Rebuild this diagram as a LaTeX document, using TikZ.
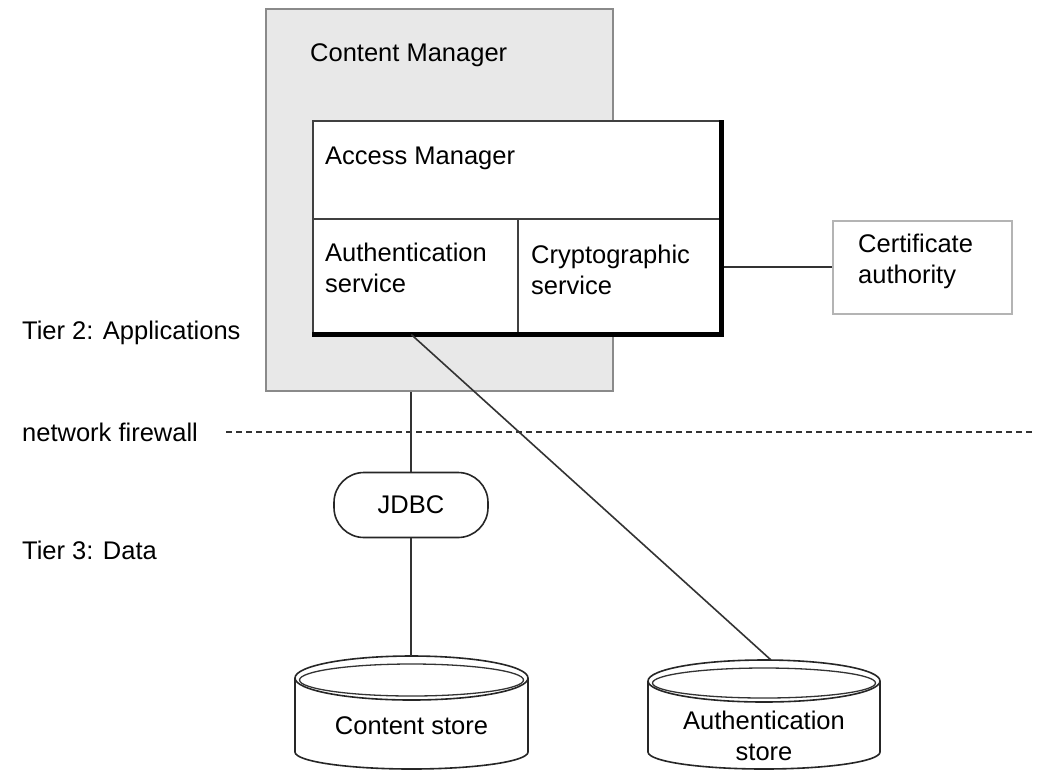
\documentclass[tikz,border=0pt]{standalone}
\usepackage{fontspec}
\setmainfont{Liberation Sans}
\definecolor{cmfill}{HTML}{E8E8E8}
\definecolor{cmborder}{HTML}{8A8A8A}
\definecolor{caborder}{HTML}{B4B4B4}
\begin{document}
\begin{tikzpicture}[x=1pt,y=-1pt,
  font=\fontsize{25.5}{31}\selectfont,
  lbl/.style={anchor=west, inner sep=0, align=left},
  cell/.style={draw=black!75, fill=white, line width=1.5pt, inner sep=0, anchor=north west},
  conn/.style={draw=black!80, line width=1.6pt},
  cyl/.style={draw=black!85, line width=1.6pt, fill=white}]
\useasboundingbox (0,0) rectangle (1038,772);
\fill[white] (0,0) rectangle (1038,772);

% Content Manager
\node[draw=cmborder, fill=cmfill, line width=1.8pt, inner sep=0, anchor=north west,
      minimum width=347, minimum height=382] (cm) at (265,8) {};
\node[lbl] (cmlbl) at (310,55) {Content Manager};

% Access Manager
\node[cell, minimum width=410, minimum height=98] (am) at (312,120) {};
\node[cell, minimum width=205, minimum height=115] (auth) at (312,218) {};
\node[cell, minimum width=205, minimum height=115] (crypto) at (517,218) {};
\draw[black, line width=5pt] (am.north east) ++(-2,0) |- (auth.south west);
\node[lbl] (amlbl) at (325,158) {Access Manager};
\node[lbl] (authlbl) at (325,268) {Authentication\\service};
\node[lbl] (cryptolbl) at (531,270) {Cryptographic\\service};

% Certificate authority
\node[draw=caborder, fill=white, line width=1.5pt, inner sep=0, anchor=north west,
      minimum width=179, minimum height=93] (ca) at (832,220) {};
\node[lbl] (calbl) at (858,261) {Certificate\\authority};
\draw[conn] (ca.west) -- (ca.west -| crypto.east);

% Tier labels and firewall
\node[lbl] (tier2) at (22,333) {Tier 2: Applications};
\node[lbl] (fwlbl) at (22,432) {network firewall};
\node[lbl] (tier3) at (22,550) {Tier 3: Data};
\coordinate (fw1) at (226,432);
\coordinate (fw2) at (1035,432);
\draw[black!80, line width=1.5pt, dash pattern=on 6pt off 4pt] (fw1) -- (fw2);

% JDBC
\node[draw=black!85, fill=white, line width=1.6pt, rounded corners=30pt,
      minimum width=154, minimum height=65, inner sep=0] (jdbc) at (411,505) {JDBC};
\draw[conn] (jdbc.north |- cm.south) -- (jdbc.north);

% Content store cylinder
\draw[cyl] (295,678) -- (295,752) arc[start angle=180, end angle=360, x radius=116.5pt, y radius=17pt] -- (528,678);
\draw[cyl] (411.5,678) ellipse[x radius=116.5pt, y radius=22pt];
\draw[black!80, line width=1.3pt] (411.5,680) ellipse[x radius=112pt, y radius=16pt];
\coordinate (cstop) at (411,656);
\node (cs) at (411.5,726) {Content store};
\draw[conn] (jdbc.south) -- (cstop);

% Authentication store cylinder
\draw[cyl] (648,681) -- (648,752) arc[start angle=180, end angle=360, x radius=116pt, y radius=17pt] -- (880,681);
\draw[cyl] (764,681) ellipse[x radius=116pt, y radius=21pt];
\draw[black!80, line width=1.3pt] (764,683) ellipse[x radius=111.5pt, y radius=15pt];
\coordinate (astop) at (771,660);
\node[align=center, inner sep=0] (as) at (764,736) {Authentication\\store};
\draw[conn] (auth.south) ++(-4,0) -- (astop);
\end{tikzpicture}
\end{document}
